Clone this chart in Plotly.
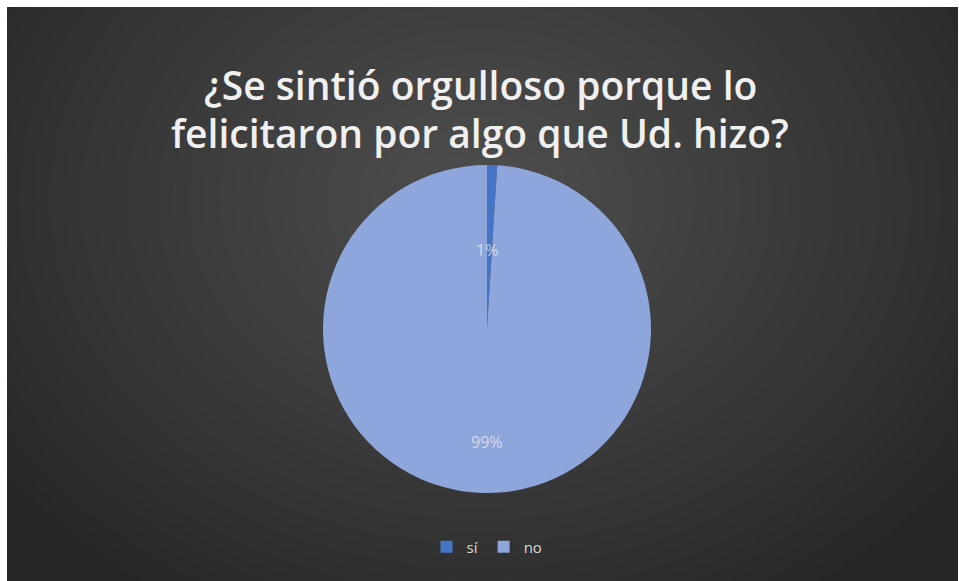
import plotly.graph_objects as go

# Survey answers
labels = ["sí", "no"]
values = [1, 99]
colors = ["#4674C6", "#8EA6DB"]

title_lines = ["¿Se sintió orgulloso porque lo", "felicitaron por algo que Ud. hizo?"]

W, H = 959, 581
FONT = "Open Sans"


def px(x):
    return x / W


def py(y):
    return 1 - y / H


# pie geometry (pixels)
cx, cy, r = 487, 329, 164

fig = go.Figure()
fig.add_trace(go.Pie(
    labels=labels,
    values=values,
    sort=False,
    direction="clockwise",
    rotation=0,
    marker=dict(colors=colors, line=dict(width=0)),
    textinfo="none",
    hoverinfo="label+percent",
    domain=dict(x=[px(cx - r), px(cx + r)], y=[py(cy + r), py(cy - r)]),
))

shapes = []


# radial background gradient made of stacked ellipses
def mix(c0, c1, t):
    return "rgb(%d,%d,%d)" % tuple(round(a + (b - a) * t) for a, b in zip(c0, c1))


outer = (0x26, 0x26, 0x26)
inner = (0x4f, 0x4f, 0x4f)
shapes.append(dict(type="rect", xref="paper", yref="paper", x0=0, x1=1, y0=0, y1=1,
                   fillcolor=mix(outer, outer, 0), line=dict(width=0), layer="below"))
gx, gy, rx, ry = 480, 200, 600, 480
steps = 40
for i in range(steps):
    t = i / (steps - 1)
    s = 1 - t
    shapes.append(dict(type="circle", xref="paper", yref="paper",
                       x0=px(gx - rx * s), x1=px(gx + rx * s),
                       y0=py(gy + ry * s), y1=py(gy - ry * s),
                       fillcolor=mix(outer, inner, t ** 0.9), line=dict(width=0), layer="below"))

# white frame around the chart area
for x0, x1, y0, y1 in [(0, 7, 0, H), (0, W, 0, 7), (W - 1, W, 0, H)]:
    shapes.append(dict(type="rect", xref="paper", yref="paper",
                       x0=px(x0), x1=px(x1), y0=py(y1), y1=py(y0),
                       fillcolor="white", line=dict(width=0), layer="above"))

annotations = []
for i, line in enumerate(title_lines):
    annotations.append(dict(text=line, xref="paper", yref="paper", x=px(480), y=py(84 + 49 * i),
                            xanchor="center", yanchor="middle", showarrow=False,
                            font=dict(family=FONT, size=39, color="#f0f0f0", weight=600)))

# percentage labels
total = sum(values)
label_pos = [(487, 250), (487, 442)]
for v, (x, y) in zip(values, label_pos):
    annotations.append(dict(text=f"{v / total:.0%}", xref="paper", yref="paper",
                            x=px(x), y=py(y), xanchor="center", yanchor="middle", showarrow=False,
                            font=dict(family=FONT, size=16, color="rgba(235,235,235,0.75)")))

fig.update_layout(
    width=W, height=H,
    margin=dict(l=0, r=0, t=0, b=0),
    paper_bgcolor="white",
    showlegend=True,
    legend=dict(orientation="h", x=px(487), xanchor="center", y=py(547), yanchor="middle",
                font=dict(family=FONT, size=15, color="#d9d9d9"),
                bgcolor="rgba(0,0,0,0)", itemwidth=30, tracegroupgap=0),
    shapes=shapes,
    annotations=annotations,
)

fig.write_html("out.html")
